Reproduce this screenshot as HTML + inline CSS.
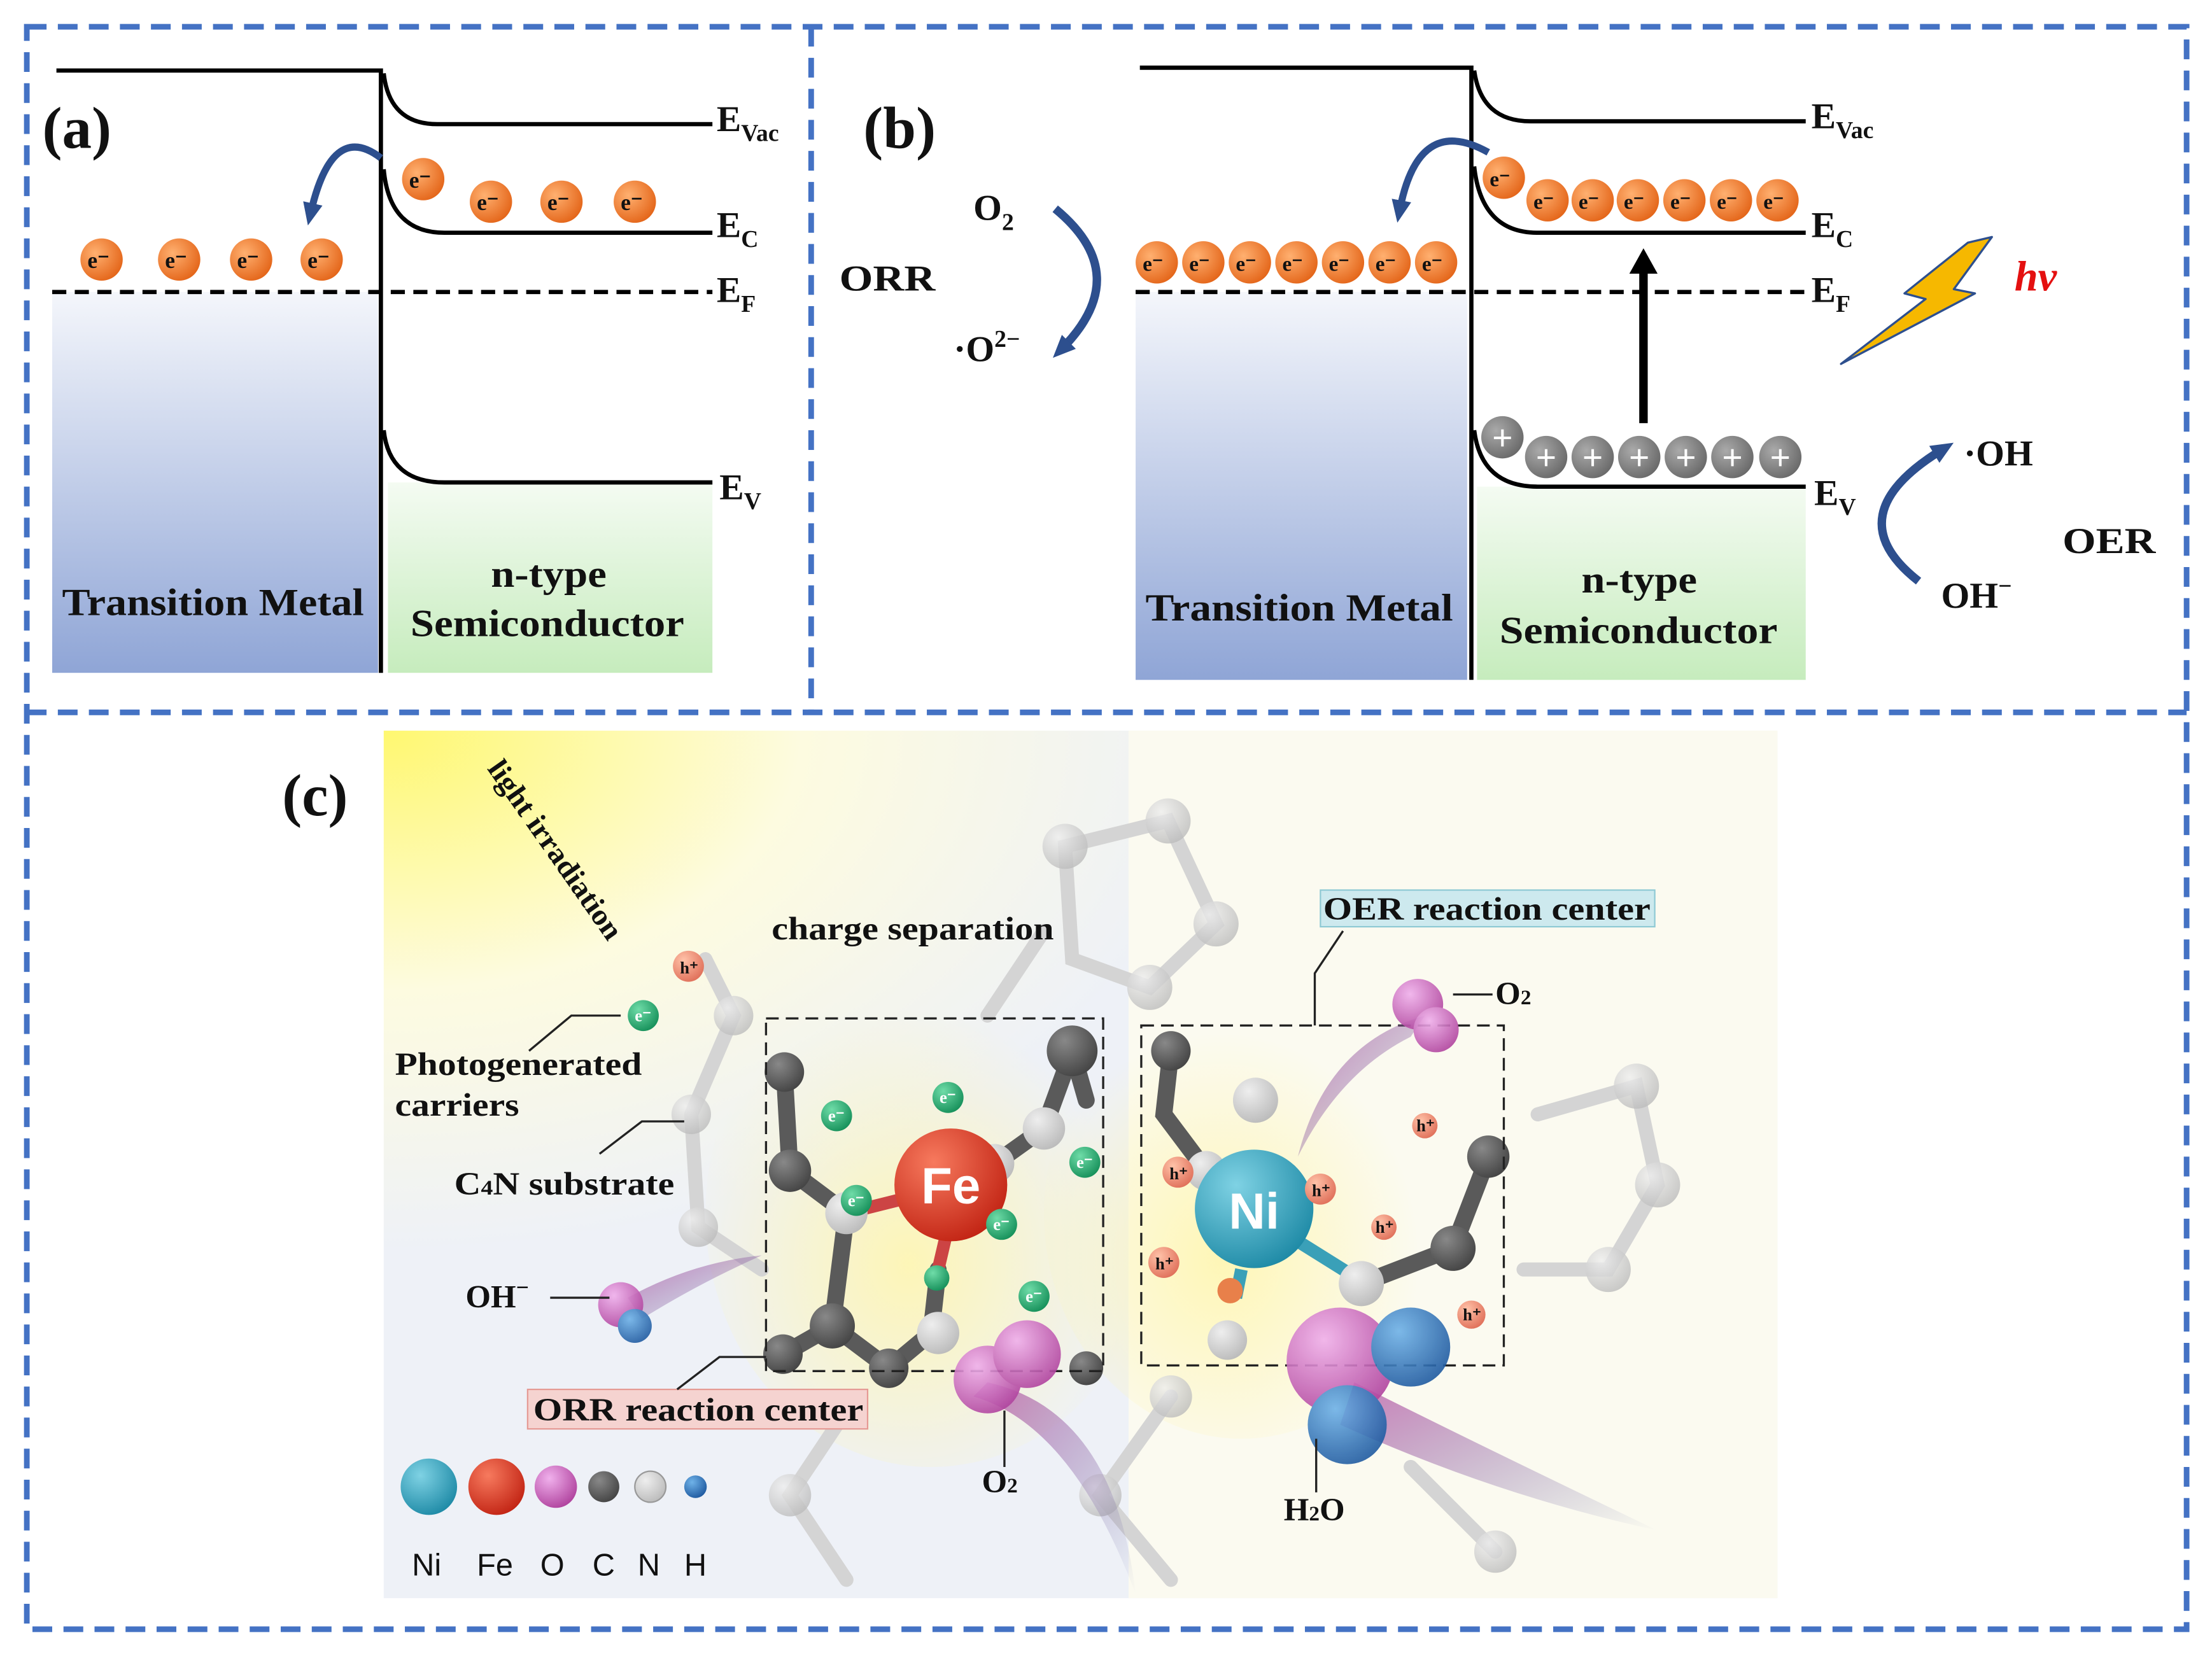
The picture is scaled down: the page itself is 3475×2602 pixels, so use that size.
<!DOCTYPE html>
<html><head><meta charset="utf-8"><style>
html,body{margin:0;padding:0;background:#fff;}
svg{display:block;}
text{font-family:"Liberation Serif",serif;font-weight:bold;fill:#111;}
</style></head><body>
<svg width="3475" height="2602" viewBox="0 0 1568 1174" preserveAspectRatio="none" xmlns="http://www.w3.org/2000/svg">
<defs>
<linearGradient id="gm" x1="0" y1="0" x2="0" y2="1"><stop offset="0" stop-color="#f4f6fb"/><stop offset="1" stop-color="#8fa5d6"/></linearGradient>
<linearGradient id="gs" x1="0" y1="0" x2="0" y2="1"><stop offset="0" stop-color="#f4fbf2"/><stop offset="1" stop-color="#c6ecbd"/></linearGradient>
<radialGradient id="ge" cx="0.35" cy="0.35" r="0.7"><stop offset="0" stop-color="#ffb070"/><stop offset="1" stop-color="#e4661a"/></radialGradient>
<radialGradient id="gh" cx="0.35" cy="0.35" r="0.7"><stop offset="0" stop-color="#aaa"/><stop offset="1" stop-color="#6a6a6a"/></radialGradient>
<radialGradient id="gy" cx="0" cy="0" r="0.6"><stop offset="0" stop-color="#fff870"/><stop offset="0.5" stop-color="#fdfbe0"/><stop offset="1" stop-color="#eef1f7"/></radialGradient>
<radialGradient id="gy2" cx="0.45" cy="0.6" r="0.5"><stop offset="0" stop-color="#fff6b0" stop-opacity="0.9"/><stop offset="1" stop-color="#fff6b0" stop-opacity="0"/></radialGradient>
<radialGradient id="fe" cx="0.35" cy="0.3" r="0.75"><stop offset="0" stop-color="#f77a5e"/><stop offset="1" stop-color="#c22414"/></radialGradient>
<radialGradient id="ni" cx="0.35" cy="0.3" r="0.75"><stop offset="0" stop-color="#7fd2e4"/><stop offset="1" stop-color="#1e8aa6"/></radialGradient>
<radialGradient id="ox" cx="0.35" cy="0.3" r="0.75"><stop offset="0" stop-color="#f0b0ec"/><stop offset="1" stop-color="#b0439e"/></radialGradient>
<radialGradient id="hy" cx="0.35" cy="0.3" r="0.75"><stop offset="0" stop-color="#6fb2e8"/><stop offset="1" stop-color="#1f5aa0"/></radialGradient>
<radialGradient id="gc" cx="0.35" cy="0.3" r="0.75"><stop offset="0" stop-color="#888"/><stop offset="1" stop-color="#444"/></radialGradient>
<radialGradient id="gl" cx="0.35" cy="0.3" r="0.75"><stop offset="0" stop-color="#eee"/><stop offset="1" stop-color="#bbb"/></radialGradient>
<radialGradient id="gg" cx="0.35" cy="0.3" r="0.75"><stop offset="0" stop-color="#6fdca8"/><stop offset="1" stop-color="#16905a"/></radialGradient>
<radialGradient id="gp" cx="0.35" cy="0.3" r="0.75"><stop offset="0" stop-color="#ffc2a8"/><stop offset="1" stop-color="#e0705a"/></radialGradient>
<linearGradient id="tail" x1="0" y1="0" x2="1" y2="1"><stop offset="0" stop-color="#c05aa8" stop-opacity="0.8"/><stop offset="1" stop-color="#5a6aa0" stop-opacity="0"/></linearGradient>
<marker id="ar" markerUnits="userSpaceOnUse" markerWidth="16" markerHeight="16" refX="8" refY="8" orient="auto"><path d="M0,1 L16,8 L0,15 z" fill="#2d4f8e"/></marker>
</defs>

<g fill="none" stroke="#4472c4" stroke-width="4" stroke-dasharray="14,8">
<rect x="19" y="19" width="1531" height="1136"/>
<line x1="19" y1="505" x2="1550" y2="505"/>
<line x1="575" y1="19" x2="575" y2="505"/>
</g>

<!-- panel a -->
<rect x="37" y="207" width="231" height="270" fill="url(#gm)"/>
<rect x="275" y="342" width="230" height="135" fill="url(#gs)"/>
<g fill="none" stroke="#000" stroke-width="3">
<path d="M40,50 H270 V477"/>
<path d="M272,52 Q276,88 310,88 H505"/>
<path d="M272,120 Q276,165 315,165 H505"/>
<path d="M272,305 Q276,342 315,342 H505"/>
<line x1="37" y1="207" x2="505" y2="207" stroke-dasharray="10,6"/>
</g>
<path d="M270,112 Q235,85 220,152" fill="none" stroke="#2d4f8e" stroke-width="5" marker-end="url(#ar)"/>
<g font-size="16">
<g><circle cx="72" cy="184" r="15" fill="url(#ge)"/><circle cx="127" cy="184" r="15" fill="url(#ge)"/><circle cx="178" cy="184" r="15" fill="url(#ge)"/><circle cx="228" cy="184" r="15" fill="url(#ge)"/>
<circle cx="300" cy="127" r="15" fill="url(#ge)"/><circle cx="348" cy="143" r="15" fill="url(#ge)"/><circle cx="398" cy="143" r="15" fill="url(#ge)"/><circle cx="450" cy="143" r="15" fill="url(#ge)"/></g>
<text x="62" y="190">e⁻</text><text x="117" y="190">e⁻</text><text x="168" y="190">e⁻</text><text x="218" y="190">e⁻</text>
<text x="290" y="133">e⁻</text><text x="338" y="149">e⁻</text><text x="388" y="149">e⁻</text><text x="440" y="149">e⁻</text>
</g>
<text x="30" y="105" font-size="42">(a)</text>
<g font-size="26"><text x="508" y="93">E<tspan font-size="17" dy="7">Vac</tspan></text>
<text x="508" y="168">E<tspan font-size="17" dy="7">C</tspan></text>
<text x="508" y="214">E<tspan font-size="17" dy="7">F</tspan></text>
<text x="510" y="354">E<tspan font-size="17" dy="7">V</tspan></text></g>
<g font-size="27"><text x="44" y="436" textLength="214" lengthAdjust="spacingAndGlyphs">Transition Metal</text>
<text x="348" y="416" textLength="82" lengthAdjust="spacingAndGlyphs">n-type</text><text x="291" y="451" textLength="194" lengthAdjust="spacingAndGlyphs">Semiconductor</text></g>

<!-- panel b -->
<rect x="805" y="207" width="235" height="275" fill="url(#gm)"/>
<rect x="1047" y="345" width="233" height="137" fill="url(#gs)"/>
<g fill="none" stroke="#000" stroke-width="3">
<path d="M808,48 H1043 V482"/>
<path d="M1045,50 Q1050,86 1085,86 H1280"/>
<path d="M1045,118 Q1050,165 1090,165 H1280"/>
<path d="M1045,305 Q1050,345 1090,345 H1280"/>
<line x1="805" y1="207" x2="1280" y2="207" stroke-dasharray="10,6"/>
</g>
<line x1="1165" y1="300" x2="1165" y2="192" stroke="#000" stroke-width="6"/>
<path d="M1155,194 L1165,176 L1175,194 z" fill="#000"/>
<path d="M1055,108 Q1005,80 992,150" fill="none" stroke="#2d4f8e" stroke-width="5" marker-end="url(#ar)"/>
<path d="M748,148 Q805,195 752,248" fill="none" stroke="#2d4f8e" stroke-width="6" marker-end="url(#ar)"/>
<path d="M1360,412 Q1300,365 1378,318" fill="none" stroke="#2d4f8e" stroke-width="6" marker-end="url(#ar)"/>
<g font-size="15">
<g fill="url(#ge)"><circle cx="820" cy="186" r="15"/><circle cx="853" cy="186" r="15"/><circle cx="886" cy="186" r="15"/><circle cx="919" cy="186" r="15"/><circle cx="952" cy="186" r="15"/><circle cx="985" cy="186" r="15"/><circle cx="1018" cy="186" r="15"/>
<circle cx="1066" cy="126" r="15"/><circle cx="1097" cy="142" r="15"/><circle cx="1129" cy="142" r="15"/><circle cx="1161" cy="142" r="15"/><circle cx="1194" cy="142" r="15"/><circle cx="1227" cy="142" r="15"/><circle cx="1260" cy="142" r="15"/></g>
<text x="810" y="192">e⁻</text><text x="843" y="192">e⁻</text><text x="876" y="192">e⁻</text><text x="909" y="192">e⁻</text><text x="942" y="192">e⁻</text><text x="975" y="192">e⁻</text><text x="1008" y="192">e⁻</text>
<text x="1056" y="132">e⁻</text><text x="1087" y="148">e⁻</text><text x="1119" y="148">e⁻</text><text x="1151" y="148">e⁻</text><text x="1184" y="148">e⁻</text><text x="1217" y="148">e⁻</text><text x="1250" y="148">e⁻</text>
</g>
<g fill="url(#gh)"><circle cx="1065" cy="310" r="15"/><circle cx="1096" cy="324" r="15"/><circle cx="1129" cy="324" r="15"/><circle cx="1162" cy="324" r="15"/><circle cx="1195" cy="324" r="15"/><circle cx="1228" cy="324" r="15"/><circle cx="1262" cy="324" r="15"/></g>
<g font-size="26"><text x="1065" y="319" text-anchor="middle" style="fill:#fff">+</text><text x="1096" y="333" text-anchor="middle" style="fill:#fff">+</text><text x="1129" y="333" text-anchor="middle" style="fill:#fff">+</text><text x="1162" y="333" text-anchor="middle" style="fill:#fff">+</text><text x="1195" y="333" text-anchor="middle" style="fill:#fff">+</text><text x="1228" y="333" text-anchor="middle" style="fill:#fff">+</text><text x="1262" y="333" text-anchor="middle" style="fill:#fff">+</text></g>
<path d="M1412,168 L1385,205 L1400,208 L1305,258 L1365,212 L1350,208 L1395,172 Z" fill="#f6b800" stroke="#2d4f8e" stroke-width="1.5" stroke-linejoin="round"/>
<text x="1428" y="206" font-size="30" font-style="italic" style="fill:#e41010">hv</text>
<text x="612" y="105" font-size="42">(b)</text>
<g font-size="26"><text x="1284" y="91">E<tspan font-size="17" dy="7">Vac</tspan></text>
<text x="1284" y="168">E<tspan font-size="17" dy="7">C</tspan></text>
<text x="1284" y="214">E<tspan font-size="17" dy="7">F</tspan></text>
<text x="1286" y="358">E<tspan font-size="17" dy="7">V</tspan></text>
<text x="690" y="156">O<tspan font-size="17" dy="7">2</tspan></text>
<text x="595" y="206" textLength="68" lengthAdjust="spacingAndGlyphs">ORR</text>
<text x="676" y="256">·O<tspan font-size="17" dy="-10">2−</tspan></text>
<text x="1392" y="330">·OH</text>
<text x="1462" y="392" textLength="66" lengthAdjust="spacingAndGlyphs">OER</text>
<text x="1376" y="431">OH<tspan font-size="17" dy="-10">−</tspan></text>
<text x="812" y="440" font-size="27" textLength="218" lengthAdjust="spacingAndGlyphs">Transition Metal</text>
<text x="1121" y="420" font-size="27" textLength="82" lengthAdjust="spacingAndGlyphs">n-type</text><text x="1063" y="456" font-size="27" textLength="197" lengthAdjust="spacingAndGlyphs">Semiconductor</text></g>

<!-- panel c -->
<rect x="272" y="518" width="988" height="615" fill="url(#gy)"/>
<rect x="800" y="518" width="460" height="615" fill="#fbfaf0"/>
<ellipse cx="660" cy="860" rx="160" ry="180" fill="url(#gy2)"/>
<ellipse cx="880" cy="860" rx="140" ry="160" fill="url(#gy2)"/>
<g stroke="#d4d4d4" stroke-width="10" fill="none" stroke-linecap="round">
<path d="M755,600 L828,582 L862,655 L815,700 L760,680 Z"/>
<path d="M740,660 L700,720 M490,790 L520,720 L500,680 M490,790 L495,870 L540,900"/>
<path d="M1090,790 L1160,770 L1175,840 L1140,900 L1080,900"/>
<path d="M830,990 L780,1060 L830,1120 M600,1000 L560,1060 L600,1120 M1000,1040 L1060,1100"/>
</g>
<g fill="url(#gl)" opacity="0.8"><circle cx="755" cy="600" r="16"/><circle cx="828" cy="582" r="16"/><circle cx="862" cy="655" r="16"/><circle cx="815" cy="700" r="16"/><circle cx="490" cy="790" r="14"/><circle cx="520" cy="720" r="14"/><circle cx="495" cy="870" r="14"/><circle cx="1160" cy="770" r="16"/><circle cx="1175" cy="840" r="16"/><circle cx="1140" cy="900" r="16"/><circle cx="830" cy="990" r="15"/><circle cx="780" cy="1060" r="15"/><circle cx="560" cy="1060" r="15"/><circle cx="1060" cy="1100" r="15"/></g>
<g stroke="#5a5a5a" stroke-width="12" fill="none" stroke-linecap="round">
<path d="M556,760 L560,830 L600,860 L590,940 L555,960"/>
<path d="M590,940 L630,970 L660,945 L665,900"/>
<path d="M760,745 L740,800 L705,825 M760,745 L770,780"/>
<path d="M830,745 L825,790 L855,830 M1055,820 L1030,885 L965,910"/>
</g>
<g stroke="#c44" stroke-width="9"><line x1="600" y1="860" x2="640" y2="850"/><line x1="665" y1="900" x2="672" y2="870"/><line x1="705" y1="820" x2="690" y2="830"/></g>
<g stroke="#3aa0b8" stroke-width="9"><line x1="880" y1="900" x2="876" y2="920"/><line x1="920" y1="880" x2="960" y2="905"/></g>
<g fill="url(#gc)"><circle cx="556" cy="760" r="14"/><circle cx="560" cy="830" r="15"/><circle cx="590" cy="940" r="16"/><circle cx="555" cy="960" r="14"/><circle cx="630" cy="970" r="14"/><circle cx="760" cy="745" r="18"/><circle cx="830" cy="745" r="14"/><circle cx="1055" cy="820" r="15"/><circle cx="1030" cy="885" r="16"/><circle cx="770" cy="970" r="12"/></g>
<g fill="url(#gl)"><circle cx="600" cy="860" r="15"/><circle cx="665" cy="945" r="15"/><circle cx="740" cy="800" r="15"/><circle cx="705" cy="825" r="14"/><circle cx="855" cy="830" r="14"/><circle cx="965" cy="910" r="16"/><circle cx="890" cy="780" r="16"/><circle cx="870" cy="950" r="14"/></g>
<circle cx="674" cy="840" r="40" fill="url(#fe)"/>
<text x="674" y="853" font-size="36" text-anchor="middle" style="fill:#fff;font-family:'Liberation Sans',sans-serif">Fe</text>
<circle cx="889" cy="857" r="42" fill="url(#ni)"/>
<text x="889" y="871" font-size="36" text-anchor="middle" style="fill:#fff;font-family:'Liberation Sans',sans-serif">Ni</text>
<g fill="none" stroke="#222" stroke-width="1.5" stroke-dasharray="9,5"><rect x="543" y="722" width="239" height="250"/><rect x="809" y="727" width="257" height="241"/></g>
<path d="M700,980 Q790,1000 805,1130 Q760,1010 690,990 Z" fill="url(#tail)"/>
<path d="M960,980 Q1060,1030 1175,1085 Q1060,1060 950,1010 Z" fill="url(#tail)"/>
<path d="M1010,720 Q940,740 920,820 Q950,760 1000,735 Z" fill="url(#tail)"/>
<path d="M445,920 Q490,895 540,890 Q495,910 455,935 Z" fill="url(#tail)"/>
<g opacity="0.9"><circle cx="1005" cy="712" r="18" fill="url(#ox)"/><circle cx="1018" cy="730" r="16" fill="url(#ox)"/>
<circle cx="700" cy="978" r="24" fill="url(#ox)"/><circle cx="728" cy="960" r="24" fill="url(#ox)"/>
<circle cx="950" cy="965" r="38" fill="url(#ox)"/><circle cx="1000" cy="955" r="28" fill="url(#hy)"/><circle cx="955" cy="1010" r="28" fill="url(#hy)"/>
<circle cx="440" cy="925" r="16" fill="url(#ox)"/><circle cx="450" cy="940" r="12" fill="url(#hy)"/></g>
<g fill="url(#gg)"><circle cx="456" cy="720" r="11"/><circle cx="593" cy="791" r="11"/><circle cx="672" cy="778" r="11"/><circle cx="769" cy="824" r="11"/><circle cx="607" cy="851" r="11"/><circle cx="710" cy="868" r="11"/><circle cx="664" cy="906" r="9"/><circle cx="733" cy="919" r="11"/></g>
<g fill="url(#gp)"><circle cx="488" cy="685" r="11"/><circle cx="835" cy="831" r="11"/><circle cx="936" cy="843" r="11"/><circle cx="1010" cy="798" r="9"/><circle cx="981" cy="870" r="9"/><circle cx="825" cy="895" r="11"/><circle cx="1043" cy="932" r="10"/><circle cx="872" cy="915" r="9" fill="#e8804a"/></g>
<g font-size="12"><text x="450" y="724" style="fill:#fff">e⁻</text><text x="587" y="795" style="fill:#fff">e⁻</text><text x="666" y="782" style="fill:#fff">e⁻</text><text x="763" y="828" style="fill:#fff">e⁻</text><text x="601" y="855" style="fill:#fff">e⁻</text><text x="704" y="872" style="fill:#fff">e⁻</text><text x="727" y="923" style="fill:#fff">e⁻</text></g>
<g font-size="12"><text x="482" y="690">h⁺</text><text x="829" y="836">h⁺</text><text x="930" y="848">h⁺</text><text x="1004" y="802">h⁺</text><text x="975" y="874">h⁺</text><text x="819" y="900">h⁺</text><text x="1037" y="936">h⁺</text></g>
<circle cx="304" cy="1054" r="20" fill="url(#ni)"/><circle cx="352" cy="1054" r="20" fill="url(#fe)"/><circle cx="394" cy="1054" r="15" fill="url(#ox)"/><circle cx="428" cy="1054" r="11" fill="url(#gc)"/><circle cx="461" cy="1054" r="11" fill="url(#gl)" stroke="#999"/><circle cx="493" cy="1054" r="8" fill="url(#hy)"/>
<g font-size="22"><text x="292" y="1117" style="font-weight:normal;font-family:'Liberation Sans',sans-serif">Ni</text><text x="338" y="1117" style="font-weight:normal;font-family:'Liberation Sans',sans-serif">Fe</text><text x="383" y="1117" style="font-weight:normal;font-family:'Liberation Sans',sans-serif">O</text><text x="420" y="1117" style="font-weight:normal;font-family:'Liberation Sans',sans-serif">C</text><text x="452" y="1117" style="font-weight:normal;font-family:'Liberation Sans',sans-serif">N</text><text x="485" y="1117" style="font-weight:normal;font-family:'Liberation Sans',sans-serif">H</text></g>
<rect x="936" y="631" width="237" height="26" fill="#cde9ee" stroke="#8ec9d4"/>
<rect x="374" y="985" width="241" height="28" fill="#f5d3d0" stroke="#e59a94"/>
<g stroke="#222" stroke-width="1.5" fill="none">
<path d="M440,720 H405 L375,745"/><path d="M485,795 H455 L425,818"/>
<path d="M390,920 H432"/><path d="M543,962 H510 L480,985"/>
<path d="M932,727 V690 L952,660"/><path d="M1030,705 H1058"/>
<path d="M712,1000 V1040"/><path d="M933,1020 V1058"/>
</g>
<text x="200" y="578" font-size="42">(c)</text>
<text x="345" y="545" font-size="21" transform="rotate(55 345 545)" textLength="150" lengthAdjust="spacingAndGlyphs">light irradiation</text>
<g font-size="23">
<text x="547" y="666" textLength="200" lengthAdjust="spacingAndGlyphs">charge separation</text>
<text x="938" y="652" textLength="232" lengthAdjust="spacingAndGlyphs">OER reaction center</text>
<text x="378" y="1007" textLength="234" lengthAdjust="spacingAndGlyphs">ORR reaction center</text>
<text x="280" y="762" textLength="175" lengthAdjust="spacingAndGlyphs">Photogenerated</text><text x="280" y="791" textLength="88" lengthAdjust="spacingAndGlyphs">carriers</text>
<text x="322" y="847" textLength="156" lengthAdjust="spacingAndGlyphs">C<tspan font-size="15">4</tspan>N substrate</text>
<text x="330" y="927">OH<tspan font-size="16" dy="-9">−</tspan></text>
<text x="1060" y="712">O<tspan font-size="15">2</tspan></text>
<text x="696" y="1058">O<tspan font-size="15">2</tspan></text>
<text x="910" y="1078">H<tspan font-size="15">2</tspan>O</text>
</g>
</svg>
</body></html>
